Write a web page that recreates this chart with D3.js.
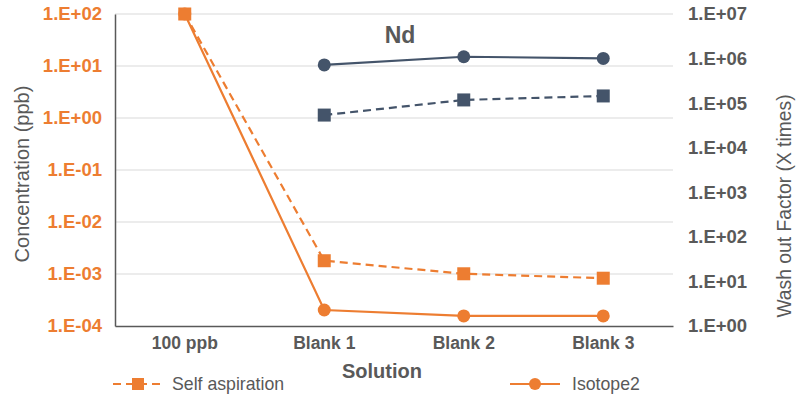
<!DOCTYPE html>
<html>
<head>
<meta charset="utf-8">
<style>
body { margin: 0; background: #fff; }
svg text { font-family: "Liberation Sans", Arial, sans-serif; }
</style>
</head>
<body>
<div id="chart"></div>
<script src="https://d3js.org/d3.v7.min.js"></script>
<script>

// data
var categories = ["100 ppb", "Blank 1", "Blank 2", "Blank 3"];
var selfConc = [100, 1.8e-3, 1.01e-3, 8.3e-4];      // left axis, dashed squares
var isoConc = [100, 2.03e-4, 1.56e-4, 1.56e-4];     // left axis, solid circles
var selfWash = [null, 5.4e4, 1.18e5, 1.45e5];       // right axis, dashed squares
var isoWash = [null, 7.2e5, 1.1e6, 1.01e6];         // right axis, solid circles
var leftTicks = [1e-4, 1e-3, 1e-2, 1e-1, 1e0, 1e1, 1e2];
var rightTicks = [1e0, 1e1, 1e2, 1e3, 1e4, 1e5, 1e6, 1e7];

var orange = "#ED7D31", slate = "#44546A", grey = "#595959";
var W = 800, H = 396;
var pLeft = 115, pRight = 673, pTop = 14, pBottom = 326;

var svg = d3.select("#chart").append("svg")
  .attr("width", W).attr("height", H);

var x = d3.scaleBand().domain(categories).range([pLeft, pRight]);
var yL = d3.scaleLog().domain([1e-4, 1e2]).range([pBottom, pTop]);
var yR = d3.scaleLog().domain([1e0, 1e7]).range([pBottom, pTop]);

function expFmt(v) {
  var e = Math.round(Math.log10(v));
  return "1.E" + (e < 0 ? "-" : "+") + String(Math.abs(e)).padStart(2, "0");
}

// gridlines
svg.append("g").selectAll("line").data(leftTicks.slice(1)).enter().append("line")
  .attr("x1", pLeft).attr("x2", pRight)
  .attr("y1", function(d) { return yL(d); }).attr("y2", function(d) { return yL(d); })
  .attr("stroke", "#d9d9d9").attr("stroke-width", 1);

// left axis
var gl = svg.append("g").attr("transform", "translate(" + pLeft + ",0)")
  .call(d3.axisLeft(yL).tickValues(leftTicks).tickFormat(expFmt).tickSize(0).tickPadding(13));
gl.select(".domain").attr("stroke", grey).attr("stroke-width", 1.5);
gl.selectAll("text").attr("fill", orange).attr("font-size", 18.5).attr("font-weight", "bold")
  .attr("font-family", "Liberation Sans, Arial, sans-serif");

// right axis
var gr = svg.append("g").attr("transform", "translate(" + (pRight + 2) + ",0)")
  .call(d3.axisRight(yR).tickValues(rightTicks).tickFormat(expFmt).tickSize(0).tickPadding(13));
gr.select(".domain").remove();
gr.selectAll("text").attr("fill", grey).attr("font-size", 18.5).attr("font-weight", "bold")
  .attr("font-family", "Liberation Sans, Arial, sans-serif");

// bottom axis
var gb = svg.append("g").attr("transform", "translate(0," + pBottom + ")")
  .call(d3.axisBottom(x).tickSize(0).tickPadding(11));
gb.select(".domain").attr("stroke", grey).attr("stroke-width", 1.5);
gb.selectAll("text").attr("fill", grey).attr("font-size", 17.5).attr("font-weight", "bold")
  .attr("font-family", "Liberation Sans, Arial, sans-serif");

// titles
svg.append("text").attr("transform", "translate(29,174) rotate(-90)")
  .attr("text-anchor", "middle").attr("fill", grey).attr("font-size", 20)
  .text("Concentration (ppb)");
svg.append("text").attr("transform", "translate(791,206) rotate(-90)")
  .attr("text-anchor", "middle").attr("fill", grey).attr("font-size", 19.3)
  .text("Wash out Factor (X times)");
svg.append("text").attr("x", 382).attr("y", 378).attr("text-anchor", "middle")
  .attr("fill", grey).attr("font-size", 20).attr("font-weight", "bold").text("Solution");
svg.append("text").attr("x", 400).attr("y", 43).attr("text-anchor", "middle")
  .attr("fill", grey).attr("font-size", 23).attr("font-weight", "bold").text("Nd");

function xc(i) { return x(categories[i]) + x.bandwidth() / 2; }

function drawSeries(vals, yScale, color, dashed, marker) {
  var pts = vals.map(function(v, i) { return {i: i, v: v}; }).filter(function(d) { return d.v != null; });
  var line = d3.line().x(function(d) { return xc(d.i); }).y(function(d) { return yScale(d.v); });
  svg.append("path").datum(pts).attr("d", line).attr("fill", "none")
    .attr("stroke", color).attr("stroke-width", 2.2)
    .attr("stroke-dasharray", dashed ? "8,5" : null);
  var m = svg.append("g").selectAll("g").data(pts).enter();
  if (marker === "square") {
    m.append("rect").attr("x", function(d) { return xc(d.i) - 6.5; })
      .attr("y", function(d) { return yScale(d.v) - 6.5; })
      .attr("width", 13).attr("height", 13).attr("fill", color);
  } else {
    m.append("circle").attr("cx", function(d) { return xc(d.i); })
      .attr("cy", function(d) { return yScale(d.v); })
      .attr("r", 6.5).attr("fill", color);
  }
}

drawSeries(isoConc, yL, orange, false, "circle");
drawSeries(selfConc, yL, orange, true, "square");
drawSeries(isoWash, yR, slate, false, "circle");
drawSeries(selfWash, yR, slate, true, "square");

// legend
var lg = svg.append("g");
lg.append("line").attr("x1", 113).attr("x2", 163).attr("y1", 384).attr("y2", 384)
  .attr("stroke", orange).attr("stroke-width", 2.2).attr("stroke-dasharray", "8,5");
lg.append("rect").attr("x", 132).attr("y", 378).attr("width", 12).attr("height", 12).attr("fill", orange);
lg.append("text").attr("x", 172).attr("y", 390).attr("fill", grey).attr("font-size", 17.7).text("Self aspiration");
lg.append("line").attr("x1", 510).attr("x2", 560).attr("y1", 384).attr("y2", 384)
  .attr("stroke", orange).attr("stroke-width", 2.2);
lg.append("circle").attr("cx", 535).attr("cy", 384).attr("r", 6).attr("fill", orange);
lg.append("text").attr("x", 572).attr("y", 390).attr("fill", grey).attr("font-size", 17.7).text("Isotope2");

</script>
</body>
</html>
